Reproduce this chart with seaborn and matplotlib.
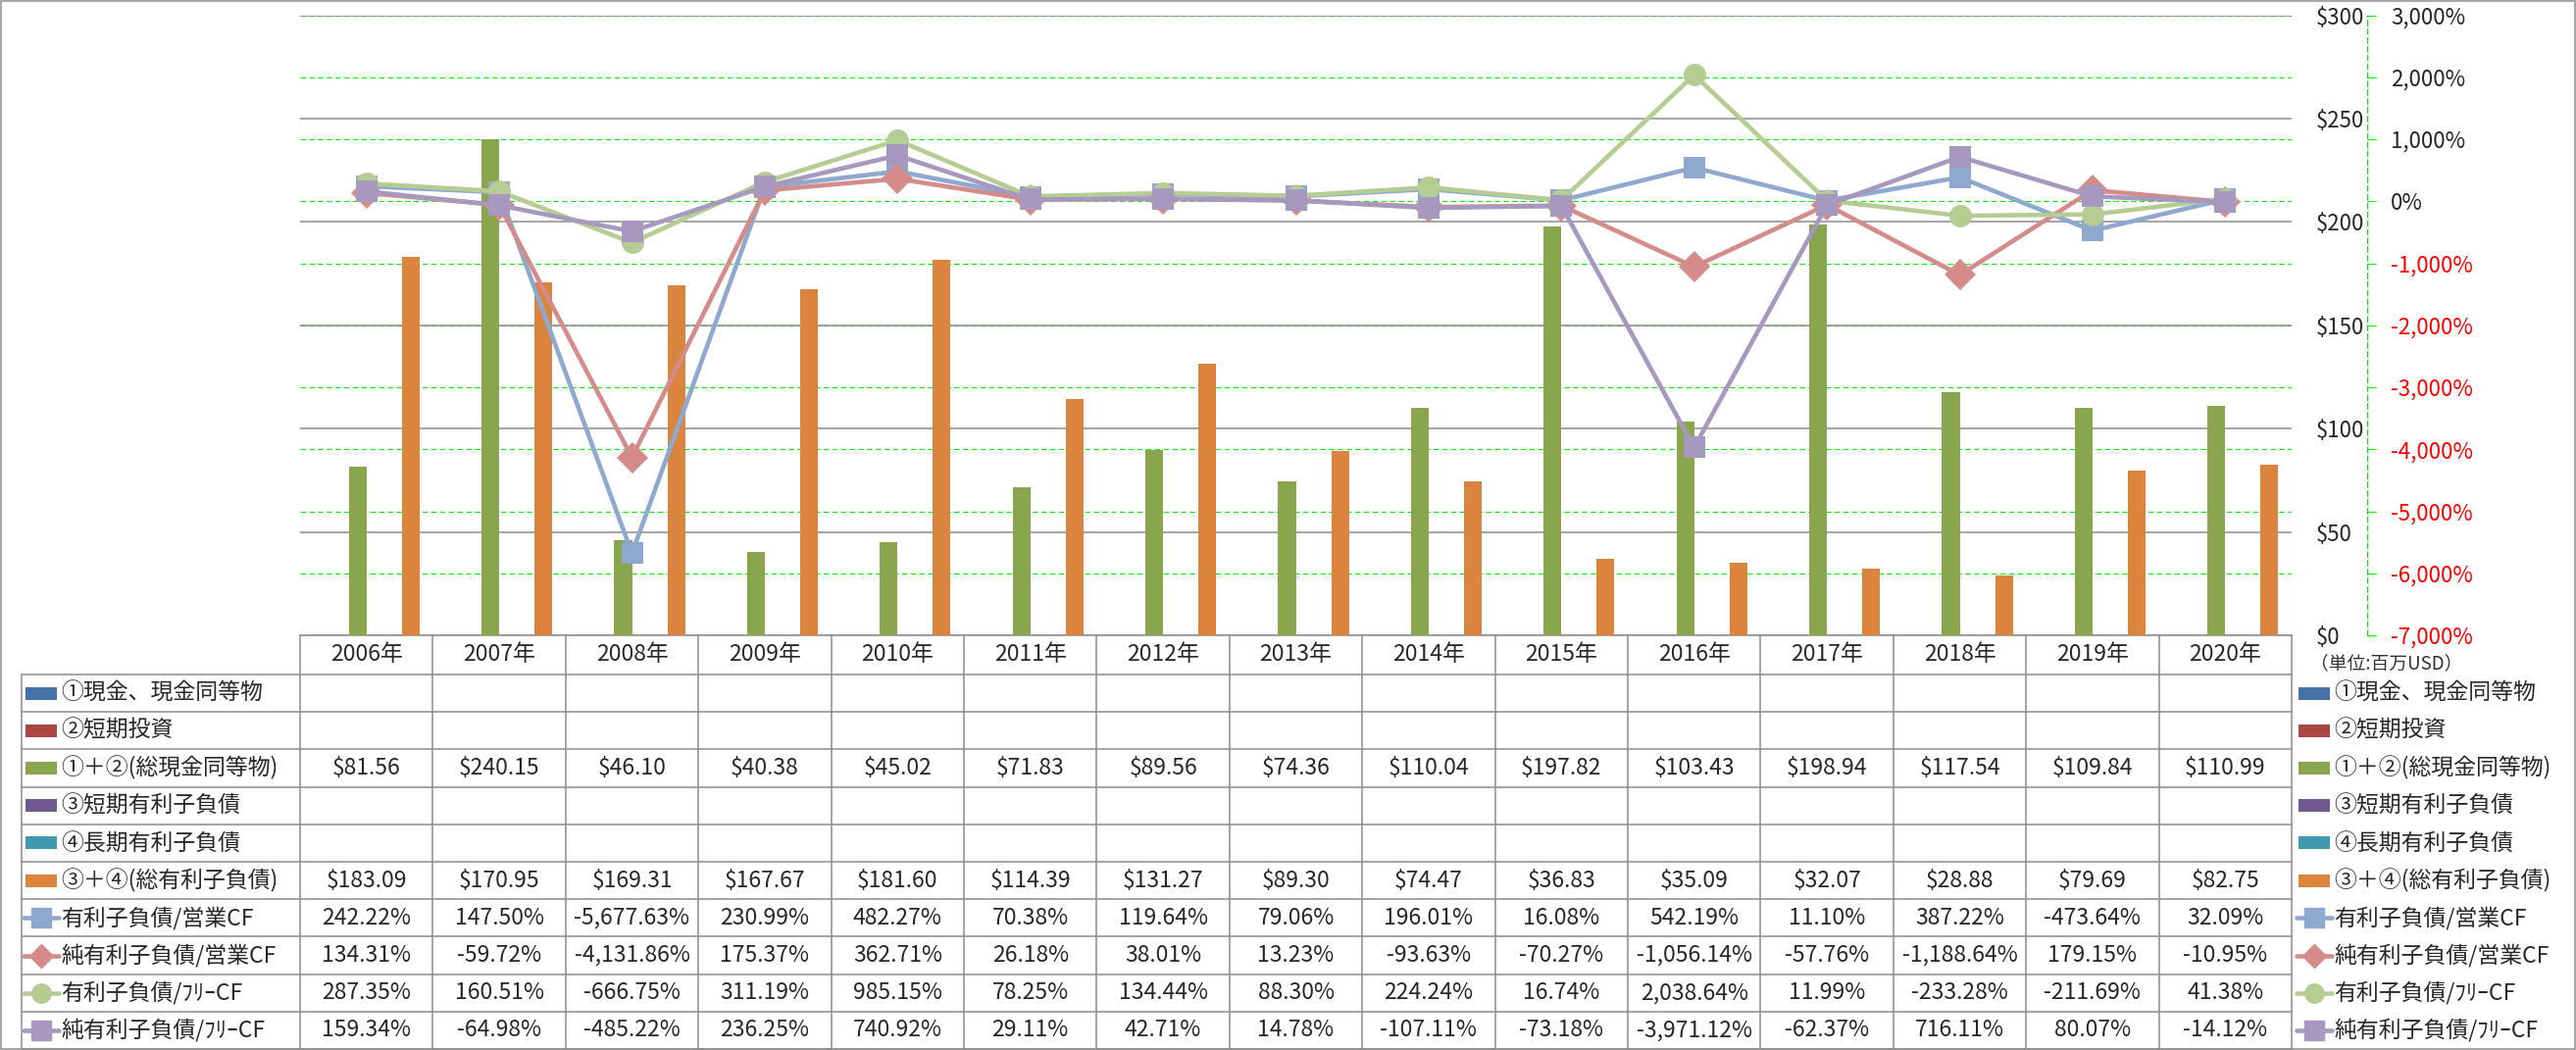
import pandas as pd
import matplotlib
matplotlib.use("Agg")
import matplotlib.pyplot as plt
import matplotlib.transforms as mtransforms
from matplotlib.patches import Rectangle
from matplotlib.lines import Line2D
from matplotlib.ticker import FuncFormatter, MultipleLocator
import seaborn as sns

# ------------------------ data ------------------------
years = ["2006年", "2007年", "2008年", "2009年", "2010年", "2011年", "2012年", "2013年",
         "2014年", "2015年", "2016年", "2017年", "2018年", "2019年", "2020年"]

bar_series = ["①現金、現金同等物", "②短期投資", "①＋②(総現金同等物)",
              "③短期有利子負債", "④長期有利子負債", "③＋④(総有利子負債)"]
total_cash = [81.56, 240.15, 46.10, 40.38, 45.02, 71.83, 89.56, 74.36,
              110.04, 197.82, 103.43, 198.94, 117.54, 109.84, 110.99]
total_debt = [183.09, 170.95, 169.31, 167.67, 181.60, 114.39, 131.27, 89.30,
              74.47, 36.83, 35.09, 32.07, 28.88, 79.69, 82.75]

line_series = ["有利子負債/営業CF", "純有利子負債/営業CF", "有利子負債/ﾌﾘｰCF", "純有利子負債/ﾌﾘｰCF"]
debt_ocf = [242.22, 147.50, -5677.63, 230.99, 482.27, 70.38, 119.64, 79.06,
            196.01, 16.08, 542.19, 11.10, 387.22, -473.64, 32.09]
net_debt_ocf = [134.31, -59.72, -4131.86, 175.37, 362.71, 26.18, 38.01, 13.23,
                -93.63, -70.27, -1056.14, -57.76, -1188.64, 179.15, -10.95]
debt_fcf = [287.35, 160.51, -666.75, 311.19, 985.15, 78.25, 134.44, 88.30,
            224.24, 16.74, 2038.64, 11.99, -233.28, -211.69, 41.38]
net_debt_fcf = [159.34, -64.98, -485.22, 236.25, 740.92, 29.11, 42.71, 14.78,
                -107.11, -73.18, -3971.12, -62.37, 716.11, 80.07, -14.12]

bar_values = {
    bar_series[0]: [None] * 15,
    bar_series[1]: [None] * 15,
    bar_series[2]: total_cash,
    bar_series[3]: [None] * 15,
    bar_series[4]: [None] * 15,
    bar_series[5]: total_debt,
}
line_values = dict(zip(line_series, [debt_ocf, net_debt_ocf, debt_fcf, net_debt_fcf]))

bar_colors = ["#4572A7", "#AA4643", "#89A54E", "#71588F", "#4198AF", "#DB843D"]
line_colors = ["#8FA8D0", "#D48B89", "#B5CC93", "#A698BE"]
line_markers = ["s", "D", "o", "s"]

# ------------------------ style ------------------------
sns.set_style("white")
plt.rcParams["font.family"] = ["Noto Sans CJK JP", "DejaVu Sans"]
plt.rcParams["text.parse_math"] = False

W, H = 2627, 1071
fig = plt.figure(figsize=(W / 100, H / 100), dpi=100)

# plot area in pixels
PL, PR, PT, PB = 306, 2337, 15.6, 648
ax = fig.add_axes([PL / W, 1 - PB / H, (PR - PL) / W, (PB - PT) / H])

bars_df = pd.DataFrame(
    [(y, s, v) for s in bar_series for y, v in zip(years, bar_values[s])],
    columns=["year", "series", "value"],
)
bars_df["value"] = bars_df["value"].astype(float).fillna(0)
sns.barplot(data=bars_df, x="year", y="value", hue="series", hue_order=bar_series,
            order=years, palette=bar_colors, saturation=1, width=0.8, linewidth=0,
            legend=False, ax=ax, zorder=3)

Y_MAX = 300
P_MIN, P_MAX = -7000, 3000

# ------------------------ ratio lines ------------------------
ax2 = ax.twinx()
lines_df = pd.DataFrame(
    [(y, s, v) for s in line_series for y, v in zip(years, line_values[s])],
    columns=["year", "series", "value"],
)
sns.pointplot(data=lines_df, x="year", y="value", hue="series", hue_order=line_series,
              order=years, palette=line_colors, markers=line_markers, linestyles="-",
              dodge=False, errorbar=None, legend=False, ax=ax2,
              markersize=16.5, linewidth=3.3, markeredgewidth=0)

# primary axis ($) - labels on the right, left aligned
ax.set_ylim(0, Y_MAX)
ax.yaxis.set_major_locator(MultipleLocator(50))
ax.yaxis.tick_right()
ax.yaxis.set_major_formatter(FuncFormatter(lambda v, _: f"${v:,.0f}"))
ax.tick_params(axis="y", length=0, pad=18, labelsize=16, labelright=True, labelleft=False)
ax.set_axisbelow(True)
ax.grid(axis="y", color="#8c8c8c", lw=1.1)
ax.grid(axis="x", visible=False)
# percent gridlines (green dashed) drawn beneath the bars and the $ grid
for p in range(P_MIN, P_MAX + 1, 1000):
    ax.axhline((p - P_MIN) / (P_MAX - P_MIN) * Y_MAX, color="#00ee00", lw=0.8,
               ls=(0, (5, 3)), zorder=0.3)
for s in ["left", "right", "top"]:
    ax.spines[s].set_visible(False)
ax.spines["bottom"].set_color("#8c8c8c")
ax.spines["bottom"].set_linewidth(1.1)
ax.set_xlabel("")
ax.set_ylabel("")

# secondary axis (%)
ax2.set_ylim(P_MIN, P_MAX)
ax2.yaxis.set_major_locator(MultipleLocator(1000))
ax2.yaxis.set_major_formatter(FuncFormatter(lambda v, _: f"{v:,.0f}%"))
ax2.grid(False)
for s in ["left", "top", "bottom"]:
    ax2.spines[s].set_visible(False)
ax2.spines["right"].set_position(("axes", (2414 - PL) / (PR - PL)))
ax2.spines["right"].set_color("#00ee00")
ax2.spines["right"].set_linestyle((0, (5, 3)))
ax2.spines["right"].set_linewidth(0.8)
ax2.tick_params(axis="y", direction="out", length=6.5, width=0.8, color="#00ee00",
                pad=11, labelsize=16)
for tick_val, lab in zip(ax2.get_yticks(), ax2.get_yticklabels()):
    if tick_val < 0:
        lab.set_color("red")
ax2.set_xlabel("")
ax2.set_ylabel("")
ax.set_xticks(range(len(years)))
ax.set_xticklabels([])
ax.tick_params(axis="x", length=0)
ax2.set_xlim(-0.5, len(years) - 0.5)
ax.set_xlim(-0.5, len(years) - 0.5)

# ------------------------ data table ------------------------
tax = fig.add_axes([0, 0, 1, 1], zorder=-1)
tax.set_xlim(0, W)
tax.set_ylim(H, 0)
tax.axis("off")
tr = mtransforms.blended_transform_factory(ax.transData, tax.transData)

grid_c = "#8c8c8c"
ROW_TOP, ROW_H = 688, 38.2
n_rows = 10
TABLE_BOTTOM = ROW_TOP + ROW_H * n_rows
FS = 16.5

# header row (years)
for i, yr in enumerate(years):
    tax.text(i, 668, yr, transform=tr, ha="center", va="center", fontsize=FS)
# vertical lines
for i in range(len(years) + 1):
    tax.plot([i - 0.5, i - 0.5], [PB, TABLE_BOTTOM], transform=tr, color=grid_c, lw=1.1)
tax.plot([22, 22], [ROW_TOP, TABLE_BOTTOM], color=grid_c, lw=1.1)
# horizontal lines
for k in range(n_rows + 1):
    yk = ROW_TOP + ROW_H * k
    tax.plot([22, PR], [yk, yk], color=grid_c, lw=1.1)

row_labels = bar_series + line_series
row_values = [bar_values[s] for s in bar_series] + [line_values[s] for s in line_series]


def draw_key(x0, yc, k):
    if k < 6:
        tax.add_patch(Rectangle((x0, yc - 6.5), 32, 13, color=bar_colors[k], lw=0))
    else:
        j = k - 6
        tax.add_line(Line2D([x0 - 2, x0 + 34], [yc, yc], color=line_colors[j], lw=3.3))
        tax.add_line(Line2D([x0 + 16], [yc], marker=line_markers[j], color=line_colors[j],
                            markersize=14 if line_markers[j] != "D" else 12, lw=0))


for k, (lab, vals) in enumerate(zip(row_labels, row_values)):
    yc = ROW_TOP + ROW_H * (k + 0.5)
    draw_key(26, yc, k)
    tax.text(62, yc, lab, ha="left", va="center", fontsize=FS)
    # right-side legend
    draw_key(2344, yc, k)
    tax.text(2380, yc, lab, ha="left", va="center", fontsize=FS)
    for i, v in enumerate(vals):
        if v is None:
            continue
        txt = f"${v:,.2f}" if k < 6 else f"{v:,.2f}%"
        tax.text(i, yc, txt, transform=tr, ha="center", va="center", fontsize=FS)

tax.text(2356, 677, "（単位:百万USD）", ha="left", va="center", fontsize=13.5, color="#333333")

# outer frame
tax.add_patch(Rectangle((1, 1), W - 2, H - 2, fill=False, edgecolor=grid_c, lw=1.1))

fig.savefig("out.png", dpi=100)
